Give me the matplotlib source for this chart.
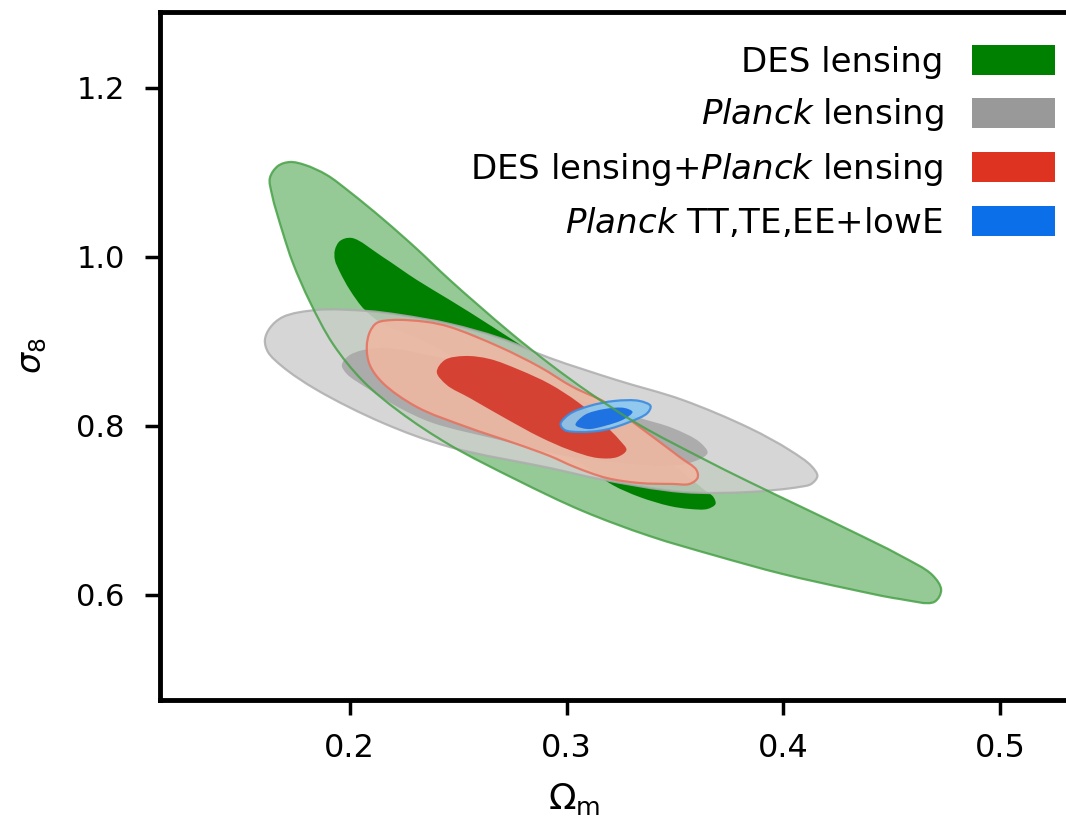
import numpy as np
import matplotlib
matplotlib.use("Agg")
import matplotlib.pyplot as plt
from matplotlib.path import Path
from matplotlib.patches import PathPatch, Patch

plt.rcParams['font.family'] = ['DejaVu Sans']
plt.rcParams['mathtext.fontset'] = 'dejavusans'

# ---------------- data: contour outlines (Omega_m, sigma_8) ----------------
des95_om = [0.1724, 0.1793, 0.1894, 0.2000, 0.2152, 0.2309, 0.2461, 0.2737, 0.2922,
            0.3106, 0.3336, 0.3613, 0.3843, 0.4074, 0.4304, 0.4535, 0.4687, 0.4728, 0.4696,
            0.4535, 0.4304, 0.3995, 0.3691, 0.3382, 0.3074, 0.2770, 0.2461, 0.2230, 0.2060,
            0.1922, 0.1816, 0.1737, 0.1691, 0.1641, 0.1631, 0.1668]
des95_s8 = [1.1124, 1.1089, 1.0970, 1.0769, 1.0450, 1.0095, 0.9728, 0.9112, 0.8734,
            0.8391, 0.8012, 0.7633, 0.7337, 0.7053, 0.6769, 0.6473, 0.6237, 0.6059, 0.5917,
            0.5953, 0.6071, 0.6249, 0.6462, 0.6698, 0.6994, 0.7361, 0.7775, 0.8166, 0.8533,
            0.8970, 0.9467, 0.9929, 1.0284, 1.0734, 1.0935, 1.1077]

des68_om = [0.1931, 0.1954, 0.2009, 0.2152, 0.2309, 0.2461, 0.2659, 0.2922, 0.3152, 0.3382,
            0.3567, 0.3636, 0.3677, 0.3687, 0.3650, 0.3567, 0.3475, 0.3336, 0.3212, 0.3083,
            0.2922, 0.2691, 0.2461, 0.2276, 0.2161, 0.2069, 0.2000, 0.1954, 0.1931]
des68_s8 = [1.0083, 1.0189, 1.0225, 1.0000, 0.9728, 0.9491, 0.9172, 0.8722, 0.8249, 0.7775,
            0.7385, 0.7243, 0.7160, 0.7077, 0.7018, 0.7018, 0.7053, 0.7160, 0.7302, 0.7527,
            0.7799, 0.8367, 0.8840, 0.9077, 0.9195, 0.9373, 0.9609, 0.9822, 0.9964]

pl95_om = [0.1608, 0.1631, 0.1691, 0.1848, 0.2078, 0.2230, 0.2461, 0.2691, 0.2922, 0.3230,
           0.3535, 0.3843, 0.4028, 0.4129, 0.4157, 0.4129, 0.4074, 0.3843, 0.3535,
           0.3152, 0.2922, 0.2461, 0.2152, 0.1848, 0.1691, 0.1622]
pl95_s8 = [0.9018, 0.9160, 0.9290, 0.9373, 0.9361, 0.9314, 0.9207, 0.9041, 0.8805, 0.8544,
           0.8308, 0.7976, 0.7716, 0.7527, 0.7408, 0.7314, 0.7278, 0.7219, 0.7219,
           0.7373, 0.7503, 0.7751, 0.8036, 0.8426, 0.8698, 0.8876]

pl68_om = [0.1963, 0.2000, 0.2138, 0.2461, 0.2783, 0.3060, 0.3336, 0.3488, 0.3613, 0.3650,
           0.3567, 0.3429, 0.3244, 0.2968, 0.2691, 0.2382, 0.2230, 0.2078, 0.1986]
pl68_s8 = [0.8722, 0.8840, 0.8923, 0.8781, 0.8544, 0.8308, 0.8095, 0.7976, 0.7811, 0.7680,
           0.7562, 0.7527, 0.7562, 0.7657, 0.7834, 0.8036, 0.8213, 0.8450, 0.8615]

comb95_om = [0.2078, 0.2092, 0.2124, 0.2198, 0.2355, 0.2461, 0.2691, 0.2876, 0.3028, 0.3184,
             0.3336, 0.3521, 0.3599, 0.3604, 0.3567, 0.3488, 0.3336, 0.3184, 0.3037, 0.2922,
             0.2770, 0.2539, 0.2309, 0.2152, 0.2092]
comb95_s8 = [0.8935, 0.9112, 0.9219, 0.9254, 0.9231, 0.9172, 0.8935, 0.8698, 0.8462, 0.8272,
             0.7988, 0.7633, 0.7479, 0.7385, 0.7314, 0.7314, 0.7325, 0.7385, 0.7515, 0.7645,
             0.7787, 0.7988, 0.8225, 0.8509, 0.8722]

comb68_om = [0.2401, 0.2438, 0.2530, 0.2645, 0.2783, 0.2922, 0.3051, 0.3166, 0.3244, 0.3276,
             0.3235, 0.3143, 0.3014, 0.2876, 0.2714, 0.2553, 0.2447]
comb68_s8 = [0.8639, 0.8781, 0.8828, 0.8793, 0.8663, 0.8497, 0.8284, 0.8036, 0.7834, 0.7716,
             0.7633, 0.7621, 0.7716, 0.7870, 0.8095, 0.8331, 0.8485]

cmb95_om = [0.2972, 0.3014, 0.3106, 0.3221, 0.3336, 0.3387, 0.3373, 0.3290, 0.3175, 0.3060, 0.2991]
cmb95_s8 = [0.8024, 0.8142, 0.8237, 0.8296, 0.8296, 0.8237, 0.8154, 0.8047, 0.7953, 0.7929, 0.7953]

cmb68_om = [0.3041, 0.3083, 0.3175, 0.3267, 0.3304, 0.3267, 0.3175, 0.3097]
cmb68_s8 = [0.8012, 0.8130, 0.8201, 0.8213, 0.8166, 0.8083, 0.8000, 0.7964]

labels = ['DES lensing', r'$\it{Planck}$ lensing',
          r'DES lensing+$\it{Planck}$ lensing', r'$\it{Planck}$ TT,TE,EE+lowE']
legend_colors = ['#008000', '#999999', '#dd3320', '#0a6fe8']

x_ticks = [0.2, 0.3, 0.4, 0.5]
y_ticks = [0.6, 0.8, 1.0, 1.2]
x_lim = (0.1124, 0.5304)
y_lim = (0.4757, 1.2899)

fig = plt.figure(figsize=(10.66, 8.31), dpi=100)
ax = fig.add_axes([160 / 1066, 1 - 700 / 831, 906 / 1066, 688 / 831])
ax.set_xlim(*x_lim)
ax.set_ylim(*y_lim)

# scale factors so that curve parametrisation is done in screen-like units
SX = 906.0 / (x_lim[1] - x_lim[0])
SY = 688.0 / (y_lim[1] - y_lim[0])


def smooth_closed_path(xs, ys):
    """Closed Bezier path through the outline points (centripetal Catmull-Rom)."""
    P = np.column_stack([np.asarray(xs) * SX, np.asarray(ys) * SY]).astype(float)
    n = len(P)
    out = [P[0]]
    codes = [Path.MOVETO]
    for i in range(n):
        p0, p1, p2, p3 = P[i - 1], P[i], P[(i + 1) % n], P[(i + 2) % n]
        d0 = max(np.linalg.norm(p1 - p0) ** 0.5, 1e-6)
        d1 = max(np.linalg.norm(p2 - p1) ** 0.5, 1e-6)
        d2 = max(np.linalg.norm(p3 - p2) ** 0.5, 1e-6)
        m1 = ((p1 - p0) / d0 - (p2 - p0) / (d0 + d1) + (p2 - p1) / d1) * d1
        m2 = ((p2 - p1) / d1 - (p3 - p1) / (d1 + d2) + (p3 - p2) / d2) * d1
        out += [p1 + m1 / 3.0, p2 - m2 / 3.0, p2]
        codes += [Path.CURVE4] * 3
    out.append(P[0])
    codes.append(Path.CLOSEPOLY)
    V = np.array(out)
    V[:, 0] /= SX
    V[:, 1] /= SY
    return Path(V, codes)


def add(xs, ys, fc, alpha, ec='none', lw=0, z=1):
    ax.add_patch(PathPatch(smooth_closed_path(xs, ys), facecolor=fc, edgecolor=ec,
                           linewidth=lw, alpha=alpha, zorder=z))

# DES lensing
add(des95_om, des95_s8, (149/255, 201/255, 149/255), 1.0, z=1)
add(des68_om, des68_s8, (0, 128/255, 0), 1.0, z=2)
# Planck lensing
add(pl95_om, pl95_s8, (207/255, 207/255, 207/255), 0.85, ec=(0.68, 0.68, 0.68), lw=1.6, z=3)
add(pl68_om, pl68_s8, (165/255, 165/255, 165/255), 0.85, z=4)
# DES + Planck lensing
add(comb95_om, comb95_s8, (238/255, 184/255, 163/255), 0.9, ec=(0.90, 0.45, 0.38), lw=1.6, z=5)
add(comb68_om, comb68_s8, (212/255, 60/255, 46/255), 0.95, z=6)
# Planck TT,TE,EE+lowE
add(cmb95_om, cmb95_s8, (138/255, 200/255, 240/255), 0.92, ec=(0.24, 0.55, 0.88), lw=1.6, z=7)
add(cmb68_om, cmb68_s8, (25/255, 110/255, 225/255), 0.95, z=8)
# DES outer contour line on top
ax.add_patch(PathPatch(smooth_closed_path(des95_om, des95_s8), facecolor='none',
                       edgecolor=(0.28, 0.63, 0.28), linewidth=1.6, alpha=0.85, zorder=9))

ax.set_xticks(x_ticks)
ax.set_yticks(y_ticks)
ax.set_xticklabels([f'{v:.1f}' for v in x_ticks])
ax.set_yticklabels([f'{v:.1f}' for v in y_ticks])
ax.tick_params(axis='both', direction='out', length=10.5, width=2.5, color='black')
ax.tick_params(axis='x', labelsize=23, pad=13)
ax.tick_params(axis='y', labelsize=22, pad=15)

for s in ['left', 'bottom', 'top']:
    ax.spines[s].set_linewidth(3.5)
ax.spines['right'].set_visible(False)

ax.set_xlabel(r'$\Omega_{\rm m}$', fontsize=26)
ax.xaxis.set_label_coords(0.457, -0.118)
ax.set_ylabel(r'$\sigma_8$', fontsize=24)
ax.yaxis.set_label_coords(-0.122, 0.5)

handles = [Patch(facecolor=c, edgecolor='none') for c in legend_colors]
leg = ax.legend(handles, labels, loc='upper right', bbox_to_anchor=(0.988, 0.952),
                frameon=False, fontsize=24.5, markerfirst=False, handlelength=2.44,
                handleheight=0.98, handletextpad=0.85, labelspacing=0.52,
                borderpad=0.0, borderaxespad=0.0)

fig.savefig('out.png', dpi=100)
